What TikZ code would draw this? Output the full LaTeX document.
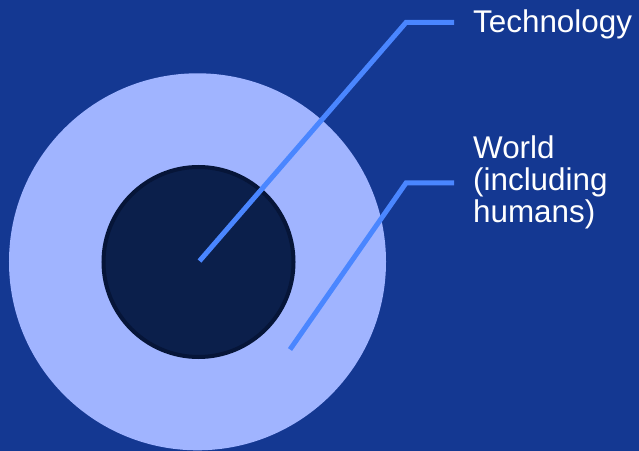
\documentclass[tikz,border=0pt]{standalone}
\usepackage{fontspec}
\setmainfont{Liberation Sans}
\definecolor{bgblue}{HTML}{143892}
\definecolor{worldblue}{HTML}{A0B4FF}
\definecolor{techfill}{HTML}{0B1F4B}
\definecolor{techrim}{HTML}{061538}
\definecolor{leader}{HTML}{4A86FF}
\tikzset{
  leaderline/.style={draw=leader, line width=5bp, line join=miter},
  labeltext/.style={text=white, inner sep=0pt, anchor=base west, align=left,
    font=\fontsize{31.5}{32.5}\selectfont}
}
\begin{document}
\begin{tikzpicture}[x=1bp,y=-1bp]
  \fill[bgblue] (0,0) rectangle (639,451);
  \useasboundingbox (0,0) rectangle (639,451);
  \node[circle, fill=worldblue, inner sep=0pt, minimum size=377bp] (world) at (197.5,261.8) {};
  \node[circle, fill=techfill, draw=techrim, line width=4bp, inner sep=0pt, minimum size=190bp] (tech) at (198.5,262) {};
  \coordinate (techpt) at (199.5,261);
  \coordinate (techbend) at (406,22.5);
  \coordinate (techend) at (454,22.5);
  \coordinate (worldpt) at (290,349.5);
  \coordinate (worldbend) at (406,183);
  \coordinate (worldend) at (454,183);
  \node[labeltext] (techlabel) at (473,33) {Technology};
  \node[labeltext] (worldlabel) at (473,223) {World\\(including\\humans)};
  \draw[leaderline] (techpt) -- (techbend) -- (techend);
  \draw[leaderline] (worldpt) -- (worldbend) -- (worldend);
\end{tikzpicture}
\end{document}
